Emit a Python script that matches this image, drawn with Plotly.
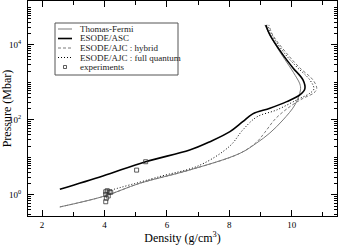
import plotly.graph_objects as go

# ---------------- data ----------------
tf_density = [2.57, 4.01, 5.13, 6.73, 8.34, 8.88, 9.30, 9.72, 10.10, 10.28, 10.26, 10.16, 9.94, 9.62, 9.30, 9.14]
tf_pressure = [0.48, 0.94, 2.05, 4.64, 12.9, 24.4, 45, 100, 251, 631, 912, 1318, 2590, 6500, 18500, 34100]

asc_density = [2.57, 3.95, 5.32, 6.73, 7.38, 8.02, 8.43, 8.75, 9.30, 9.84, 10.26, 10.42, 10.36, 10.04, 9.72, 9.30, 9.17]
asc_pressure = [1.42, 3.21, 7.73, 15.8, 26.4, 48.8, 90, 145, 205, 308, 464, 671, 1166, 2436, 5410, 18500, 34100]

hyb_density = [2.57, 4.01, 5.13, 6.73, 8.34, 8.88, 9.14, 9.48, 9.94, 10.37, 10.71, 10.80, 10.68, 10.26, 9.88, 9.39, 9.27]
hyb_pressure = [0.48, 0.94, 2.05, 4.64, 12.9, 25.9, 47, 108, 226, 379, 525, 690, 1166, 2436, 5410, 18500, 34100]

fq_density = [4.11, 5.77, 7.05, 8.02, 8.43, 8.88, 9.52, 10.16, 10.58, 10.71, 10.58, 10.16, 9.81, 9.36, 9.23]
fq_pressure = [1.28, 3.10, 6.2, 20.3, 54, 120, 185, 341, 515, 671, 1166, 2590, 5410, 18500, 34100]

exp_density = [4.04, 4.09, 4.15, 4.20, 4.04, 4.12, 4.06, 4.04, 5.03, 5.32]
exp_pressure = [1.22, 1.30, 1.22, 1.18, 1.04, 0.94, 0.82, 0.66, 4.6, 7.7]

legend_labels = ["Thomas-Fermi", "ESODE/ASC", "ESODE/AJC : hybrid",
                 "ESODE/AJC : full quantum", "experiments"]

x_tick_vals = [2, 4, 6, 8, 10]
x_tick_text = ["2", "4", "6", "8", "10"]
y_tick_vals = [1, 100, 10000]
y_tick_text = ["10<sup>0</sup>", "10<sup>2</sup>", "10<sup>4</sup>"]
y_minor_vals = [m * 10 ** k for k in range(-1, 6) for m in range(2, 11)]

# ---------------- styles ----------------
FONT = "Liberation Serif"
GRAY = "#7a7a7a"
styles = [
    dict(color=GRAY, width=1, dash="solid"),
    dict(color="black", width=1.6, dash="solid"),
    dict(color=GRAY, width=1, dash="3px,2px"),
    dict(color="black", width=1, dash="1px,2px"),
]

W, H = 338, 245
ML, MR, MT, MB = 28, 1, 1, 29

fig = go.Figure()
series = [(tf_density, tf_pressure), (asc_density, asc_pressure),
          (hyb_density, hyb_pressure), (fq_density, fq_pressure)]
for (xs, ys), st, name in zip(series, styles, legend_labels):
    fig.add_trace(go.Scatter(x=xs, y=ys, mode="lines", name=name,
                             line=dict(color=st["color"], width=st["width"], dash=st["dash"],
                                       shape="spline", smoothing=1.0),
                             showlegend=False))
fig.add_trace(go.Scatter(x=exp_density, y=exp_pressure, mode="markers", name=legend_labels[4],
                         marker=dict(symbol="square-open", size=4, color="#333",
                                     line=dict(width=0.8, color="#333")),
                         showlegend=False))

# ---------------- hand-made legend box (xmgrace style) ----------------
pw, ph = W - ML - MR, H - MT - MB
def xp(px):
    return (px - ML) / pw
def yp(py):
    return (H - MB - py) / ph

shapes = [dict(type="rect", xref="paper", yref="paper", x0=xp(55), x1=xp(178),
               y0=yp(75), y1=yp(23), line=dict(color="#555", width=1), fillcolor="white", layer="above")]
annotations = []
rows = [29, 38.5, 48, 57.5, 67]
for i, (label, ry) in enumerate(zip(legend_labels, rows)):
    if i < 4:
        st = styles[i]
        shapes.append(dict(type="line", xref="paper", yref="paper", x0=xp(58), x1=xp(72),
                           y0=yp(ry), y1=yp(ry), layer="above",
                           line=dict(color=st["color"], width=st["width"], dash=st["dash"])))
    else:
        shapes.append(dict(type="rect", xref="paper", yref="paper", x0=xp(63.5), x1=xp(66.5),
                           y0=yp(ry + 1.5), y1=yp(ry - 1.5), layer="above",
                           line=dict(color="#333", width=0.8)))
    annotations.append(dict(xref="paper", yref="paper", x=xp(78), y=yp(ry), text=label,
                            showarrow=False, xanchor="left", yanchor="middle",
                            font=dict(family=FONT, size=9, color="#222")))

axis_common = dict(showgrid=False, zeroline=False, showline=True, linecolor="black", linewidth=1,
                   mirror="allticks", ticks="inside", tickcolor="black", tickwidth=1,
                   tickfont=dict(family=FONT, size=9, color="black"))

fig.update_layout(
    width=W, height=H, margin=dict(l=ML, r=MR, t=MT, b=MB),
    paper_bgcolor="white", plot_bgcolor="white",
    font=dict(family=FONT, color="black"),
    shapes=shapes, annotations=annotations,
    xaxis=dict(range=[1.55, 11.45], tickmode="array", tickvals=x_tick_vals, ticktext=x_tick_text,
               ticklen=6, minor=dict(dtick=1, tick0=1, ticks="inside", ticklen=4, tickcolor="black"),
               title=dict(text="Density (g/cm<sup>3</sup>)", font=dict(family=FONT, size=12), standoff=3),
               automargin=False, **axis_common),
    yaxis=dict(type="log", range=[-0.56, 5.17], tickmode="array", tickvals=y_tick_vals,
               ticktext=y_tick_text, ticklen=6, ticklabelstandoff=4,
               minor=dict(tickmode="array", tickvals=y_minor_vals, ticks="inside", ticklen=3,
                          tickcolor="black"),
               title=dict(text="Pressure (Mbar)", font=dict(family=FONT, size=12), standoff=3),
               automargin=False, **axis_common),
)

fig.write_html("out.html", config={"displayModeBar": False},
               post_script="document.body.style.margin='0px';")
